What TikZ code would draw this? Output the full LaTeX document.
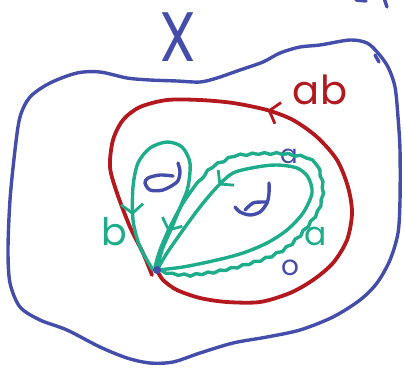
\documentclass[tikz,border=0pt]{standalone}
\usepackage{fontspec}
\setmainfont{Poppins}
\definecolor{penblue}{RGB}{68, 78, 170}
\definecolor{penred}{RGB}{178, 24, 30}
\definecolor{pengreen}{RGB}{30, 172, 138}
\usetikzlibrary{arrows.meta, decorations.markings, decorations.pathmorphing}
\tikzset{
  penstroke/.style={line width=3.4pt, line cap=round, line join=round},
  spacepath/.style={penstroke, penblue},
  prodloop/.style={penstroke, penred, line width=3.8pt},
  genloop/.style={penstroke, pengreen},
  holecurl/.style={penstroke, penblue, line width=3.4pt},
  wiggle/.style={decorate, decoration={snake, amplitude=0.9pt, segment length=12pt}},
  tipat/.style={postaction={decorate, decoration={markings, mark=at position #1 with {\arrow[line width=2.8pt]{Straight Barb[length=9pt, width=22pt]}}}}},
  penlabel/.style={inner sep=0pt, font=\fontsize{#1}{#1}\selectfont},
}
\begin{document}
\begin{tikzpicture}[x=1pt, y=-1pt]
  \useasboundingbox (0,0) rectangle (404,367);
  \coordinate (base) at (157,270);

  % the space X
  \draw[spacepath] plot[smooth cycle] coordinates {(30,97) (50,83) (77,73) (100,72) (127,78) (150,80) (177,81) (200,82) (217,78) (240,70) (263,62) (280,53) (300,47) (320,45) (350,40) (367,43) (378,53) (388,67) (395,87) (398,117) (400,150) (400,200) (398,233) (390,260) (377,283) (360,300) (333,317) (300,330) (267,337) (233,343) (200,353) (173,362) (150,363) (127,358) (100,347) (67,330) (40,320) (20,307) (10,283) (8,250) (10,200) (15,150) (20,117)};
  \draw[spacepath] (375,55) -- (379,62);
  \draw[spacepath] (384,-2) -- (387,7);
  \draw[spacepath] (356,0) -- (366,1);
  \node[penlabel=70, penblue, xscale=0.85] (xlbl) at (178,37) {X};

  % the loop ab
  \draw[prodloop, tipat=0.555] plot[smooth] coordinates {(base) (163,280) (177,290) (200,298) (227,302) (260,302) (290,293) (313,280) (333,263) (347,240) (352,213) (348,187) (337,160) (317,137) (293,120) (267,110) (233,103) (200,100) (167,100) (140,107) (123,120) (113,140) (110,167) (117,193) (130,227) (143,253) (152,275)};
  \node[penlabel=40, penred] (ablbl) at (320,90) {ab};

  \node[penlabel=26, penblue] (atop) at (289,156) {a};

  % the loops a and b
  \draw[genloop, tipat=0.8] plot[smooth] coordinates {(base) (162,250) (172,227) (182,203) (188,187) (190,163) (182,147) (167,142) (150,148) (138,163) (133,187) (133,220) (140,247) (153,270)};
  \draw[genloop, tipat=0.74] plot[smooth] coordinates {(base) (183,267) (217,260) (243,253) (267,243) (287,230) (303,213) (312,193) (308,177) (297,168) (277,165) (257,167) (233,173) (217,187) (200,207) (183,230) (167,253) (157,270)};
  \draw[genloop, wiggle] (base) -- (172,274) -- (187,275) -- (210,272) -- (233,267) -- (257,260) -- (270,255) -- (280,250) -- (291,242) -- (300,233) -- (309,222) -- (317,210) -- (321,198) -- (322,187) -- (320,176) -- (317,167) -- (303,158) -- (283,155) -- (257,155) -- (233,157) -- (213,167) -- (197,183);
  \draw[genloop, tipat=0.6] plot[smooth] coordinates {(197,183) (183,203) (170,227) (160,250) (155,267)};
  \node[penlabel=38, pengreen] (blbl) at (114,232) {b};
  \node[penlabel=33, pengreen] (albl) at (316,236) {a};

  % holes
  \draw[holecurl] plot[smooth] coordinates {(178,163) (180,172) (177,182) (163,190) (150,190) (145,183) (148,178) (160,175) (173,176)};
  \draw[holecurl] plot[smooth] coordinates {(269,183) (269,193) (267,203) (260,212) (250,215) (240,212) (235,207)};
  \draw[holecurl] plot[smooth] coordinates {(245,210) (253,203) (262,202) (267,202)};

  \node[penlabel=28, penblue] (olbl) at (290,268) {o};
  \fill[penblue] (base) circle (4);
\end{tikzpicture}
\end{document}
